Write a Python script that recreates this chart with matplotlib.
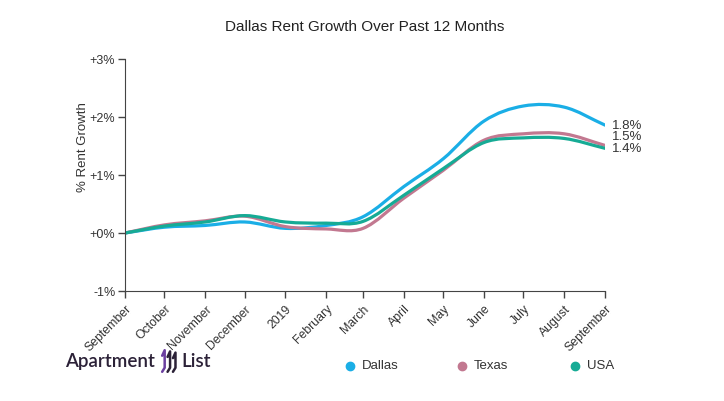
"""Dallas rent growth over the past 12 months, Apartment List style."""

import matplotlib
matplotlib.use("Agg")
import matplotlib.dates as mdates
import matplotlib.pyplot as plt
import numpy as np
from matplotlib.lines import Line2D
from matplotlib.patches import PathPatch
from matplotlib.path import Path

months = ["2018-09-01", "2018-10-01", "2018-11-01", "2018-12-01", "2019-01-01",
          "2019-02-01", "2019-03-01", "2019-04-01", "2019-05-01", "2019-06-01",
          "2019-07-01", "2019-08-01", "2019-09-01"]
month_labels = ["September", "October", "November", "December", "2019", "February",
                "March", "April", "May", "June", "July", "August", "September"]

dallas = [0.00, 0.10, 0.13, 0.19, 0.08, 0.13, 0.28, 0.80, 1.28, 1.93, 2.19, 2.17, 1.86]
texas = [0.00, 0.14, 0.21, 0.29, 0.11, 0.07, 0.08, 0.60, 1.08, 1.60, 1.71, 1.71, 1.51]
usa = [0.00, 0.12, 0.19, 0.30, 0.19, 0.17, 0.20, 0.65, 1.11, 1.56, 1.64, 1.63, 1.46]

series = [("Dallas", dallas, "#1aaee6", "1.8%"),
          ("Texas", texas, "#c27890", "1.5%"),
          ("USA", usa, "#16ab95", "1.4%")]
label_y = {"Dallas": 1.90, "Texas": 1.70, "USA": 1.50}

yticks = [-1, 0, 1, 2, 3]
ytick_labels = ["-1%", "+0%", "+1%", "+2%", "+3%"]

FONT = "Liberation Sans"
TEXT = "#333333"


def smooth_path(x, y):
    """Cardinal-style cubic Bezier through the data points."""
    x = np.asarray(x, dtype=float)
    y = np.asarray(y, dtype=float)
    n = len(x)
    m = np.empty(n)
    m[1:-1] = (y[2:] - y[:-2]) / (x[2:] - x[:-2])
    m[0] = (y[1] - y[0]) / (x[1] - x[0])
    m[-1] = (y[-1] - y[-2]) / (x[-1] - x[-2])
    verts = [(x[0], y[0])]
    codes = [Path.MOVETO]
    for i in range(n - 1):
        h = x[i + 1] - x[i]
        verts += [(x[i] + h / 3, y[i] + m[i] * h / 3),
                  (x[i + 1] - h / 3, y[i + 1] - m[i + 1] * h / 3),
                  (x[i + 1], y[i + 1])]
        codes += [Path.CURVE4] * 3
    return Path(verts, codes)


dates = mdates.datestr2num(months)

fig = plt.figure(figsize=(7.24, 4.02), dpi=100)
ax = fig.add_axes([125 / 724, 1 - 292 / 402, (605 - 125) / 724, (292 - 60) / 402])

for name, vals, color, end_label in series:
    patch = PathPatch(smooth_path(dates, vals), facecolor="none", edgecolor=color,
                      lw=2.3, capstyle="round", joinstyle="round")
    ax.add_patch(patch)
    ax.text(dates[-1] + 5, label_y[name] - 0.03, end_label, fontsize=9.5,
            family=FONT, color=TEXT, va="center", ha="left")

ax.set_xlim(dates[0], dates[-1])
ax.set_ylim(-1, 3)
ax.set_xticks(dates)
ax.set_xticklabels(month_labels, rotation=45, ha="right", rotation_mode="anchor",
                   fontsize=8.8, family=FONT, color=TEXT)
ax.set_yticks(yticks)
ax.set_yticklabels(ytick_labels, fontsize=9, family=FONT, color=TEXT)
ax.tick_params(length=5, width=1, color="#444444", pad=2)
ax.tick_params(axis="x", pad=3)
for side in ("top", "right"):
    ax.spines[side].set_visible(False)
for side in ("left", "bottom"):
    ax.spines[side].set_color("#444444")
ax.set_ylabel("% Rent Growth", fontsize=9.5, family=FONT, color=TEXT)
ax.yaxis.set_label_coords(-36 / 480, 0.625)

fig.text(365 / 724, 1 - 27 / 402, "Dallas Rent Growth Over Past 12 Months",
         ha="center", va="center", fontsize=11, family=FONT, color="#222222")

# legend
for i, (name, vals, color, _) in enumerate(series):
    x0 = [350, 462, 575][i]
    fig.add_artist(Line2D([x0 / 724], [1 - 366.5 / 402], marker="o", markersize=6,
                          color=color, transform=fig.transFigure, lw=0))
    fig.text((x0 + 12) / 724, 1 - 366.5 / 402, name, ha="left", va="center",
             fontsize=9.5, family=FONT, color=TEXT)

# logo
logo_y = 1 - 362 / 402
fig.text(65 / 724, logo_y, "Apartment", ha="left", va="center", fontsize=13.5,
         family="Lato", weight="semibold", color="#2b2137")
fig.text(181 / 724, logo_y, "List", ha="left", va="center", fontsize=13.5,
         family="Lato", weight="semibold", color="#2b2137")
icon = fig.add_axes([160 / 724, 1 - 374 / 402, 18 / 724, 24 / 402])
icon.set_xlim(0, 1)
icon.set_ylim(0, 1)
icon.axis("off")
for k, c in enumerate(["#6b3fa0", "#2b2137", "#2b2137"]):
    xs = 0.12 + k * 0.3
    icon.plot([xs, xs + 0.14, xs + 0.14, xs], [0.72 - k * 0.05, 0.95 - k * 0.05,
              0.22, 0.05], color=c, lw=1.8, solid_capstyle="round")

fig.savefig("out.png", dpi=100)
